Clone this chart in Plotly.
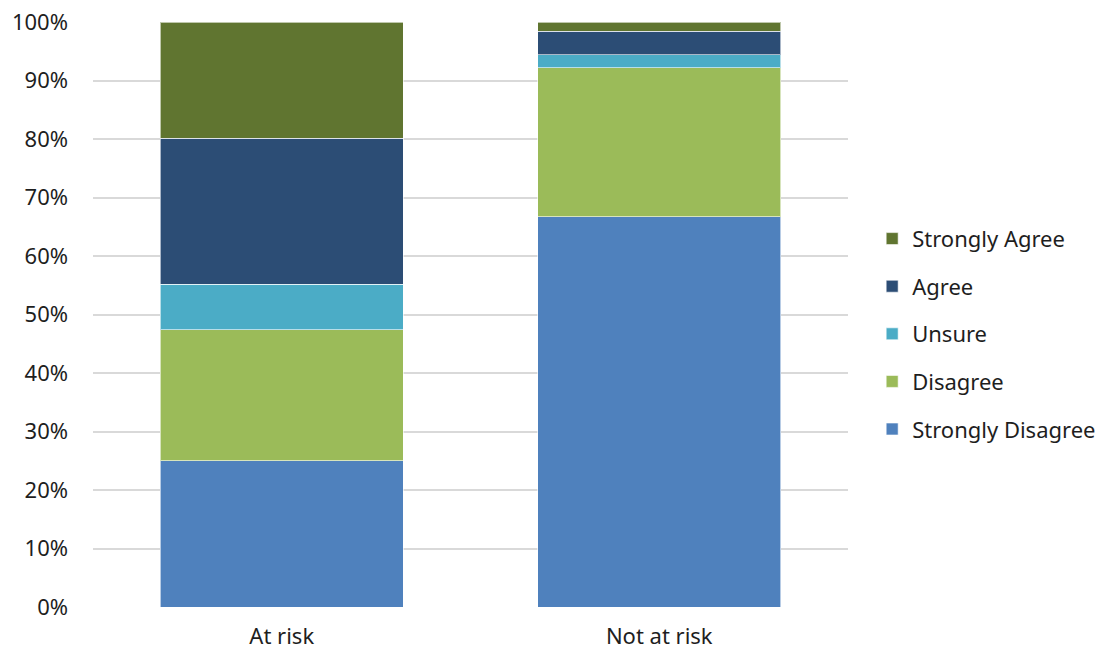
import plotly.graph_objects as go

categories = ["At risk", "Not at risk"]
strongly_disagree = [25.0, 66.7]
disagree = [22.4, 25.5]
unsure = [7.8, 2.2]
agree = [24.9, 4.0]
strongly_agree = [19.9, 1.6]

series = [
    ("Strongly Disagree", strongly_disagree, "#4F81BD"),
    ("Disagree", disagree, "#9BBB59"),
    ("Unsure", unsure, "#4BACC6"),
    ("Agree", agree, "#2C4D75"),
    ("Strongly Agree", strongly_agree, "#607530"),
]

font_family = "Noto Sans, Open Sans, DejaVu Sans, sans-serif"
text_color = "#1E1E1E"

fig = go.Figure()
for i, (name, values, color) in enumerate(series):
    fig.add_trace(go.Bar(
        x=categories,
        y=values,
        name=name,
        legendgroup=name,
        legendrank=len(series) - i,
        marker=dict(color=color, line=dict(color="rgba(255,255,255,0.6)", width=1)),
        hovertemplate="%{x}<br>" + name + ": %{y:.1f}%<extra></extra>",
    ))

fig.update_layout(
    barmode="stack",
    bargap=0.355,
    width=1108,
    height=655,
    margin=dict(l=93, r=260, t=22, b=48, autoexpand=False),
    paper_bgcolor="white",
    plot_bgcolor="white",
    font=dict(family=font_family, size=22, color=text_color),
    legend=dict(
        traceorder="grouped",
        tracegroupgap=16,
        x=1.032,
        xanchor="left",
        y=0.467,
        yanchor="middle",
        font=dict(size=22, color=text_color),
        itemwidth=30,
    ),
    yaxis=dict(
        range=[0, 100],
        tickvals=[0, 10, 20, 30, 40, 50, 60, 70, 80, 90, 100],
        ticktext=["0%", "10%", "20%", "30%", "40%", "50%", "60%", "70%", "80%", "90%", "100%"],
        showgrid=True,
        gridcolor="#D9D9D9",
        gridwidth=1.5,
        zeroline=False,
        showline=False,
        ticks="",
        automargin=False,
        ticklabelstandoff=24,
        tickfont=dict(size=22, color=text_color),
    ),
    xaxis=dict(
        showline=False,
        ticks="",
        automargin=False,
        ticklabelstandoff=14,
        tickfont=dict(size=22, color=text_color),
    ),
    showlegend=True,
)

fig.write_html("out.html")
